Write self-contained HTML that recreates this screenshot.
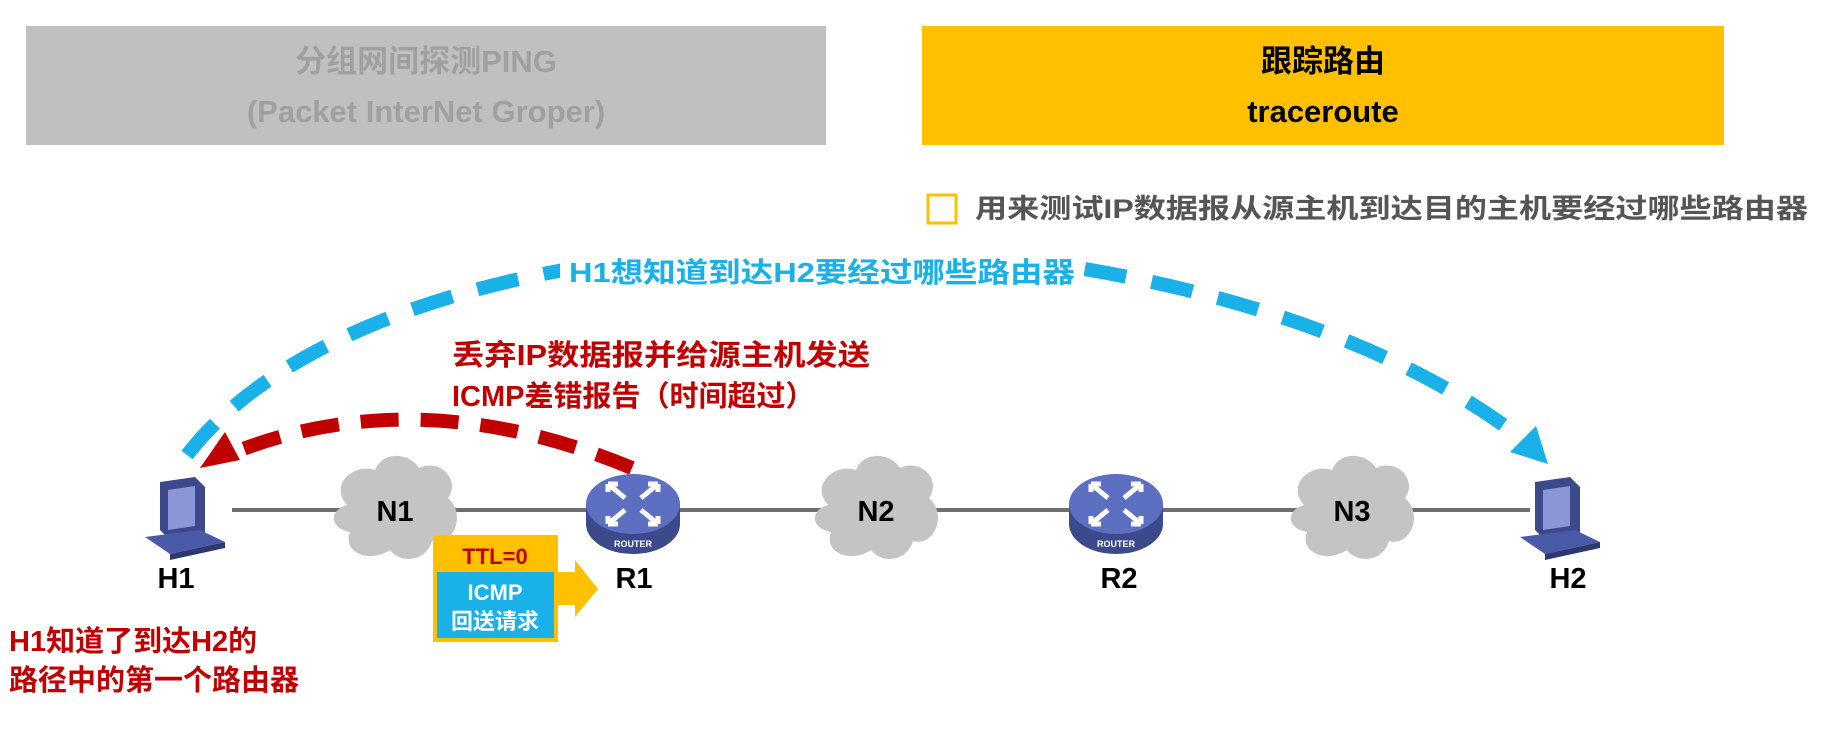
<!DOCTYPE html>
<html><head><meta charset="utf-8"><style>
body{margin:0;width:1822px;height:729px;background:#fff;overflow:hidden;font-family:"Liberation Sans","Noto Sans CJK SC",sans-serif;}
svg{position:absolute;left:0;top:0}
text{font-family:"Liberation Sans","Noto Sans CJK SC",sans-serif;font-weight:bold}
</style></head><body>
<svg width="1822" height="729" viewBox="0 0 1822 729">
<defs>
<g id="cloud"><path d="M-48,-5 C-66,-25 -42,-47 -20,-40 C-12,-60 15,-57 24,-42 C45,-52 66,-30 53,-12 C72,5 58,37 37,31 C31,52 5,54 -5,40 C-26,54 -53,42 -45,22 C-66,18 -66,0 -48,-5Z" fill="#c4c4c4"/></g>
<g id="router">
<ellipse cx="0" cy="12" rx="47" ry="30" fill="#3c4a8c"/>
<rect x="-47" y="-8" width="94" height="20" fill="#3c4a8c"/>
<ellipse cx="0" cy="-8" rx="47" ry="30" fill="#5d6fc0"/>
<g stroke="#fff" stroke-width="5" fill="none">
<path d="M-25,-28 L-8,-14 M-25,-28 h10 M-25,-28 v8"/>
<path d="M25,-28 L8,-14 M25,-28 h-10 M25,-28 v8"/>
<path d="M-25,12 L-8,-2 M-25,12 h10 M-25,12 v-8"/>
<path d="M25,12 L8,-2 M25,12 h-10 M25,12 v-8"/>
</g>
<text x="0" y="35" font-size="9" fill="#fff" text-anchor="middle">ROUTER</text>
</g>
<g id="pc">
<path d="M-30,-30 L5,-35 L15,-25 L15,22 L-20,28 L-30,18Z" fill="#3c4a8c"/>
<path d="M-22,-22 L5,-26 L5,14 L-22,18Z" fill="#8a96d8"/>
<path d="M-45,25 L10,18 L35,30 L-20,42Z" fill="#4a5aa8"/>
<path d="M-20,42 L35,30 L35,36 L-20,48Z" fill="#2c3870"/>
</g>
</defs>
<rect x="26" y="26" width="800" height="119" fill="#c0c0c0"/>
<text x="426" y="72" font-size="31" fill="#a0a0a0" text-anchor="middle">分组网间探测PING</text>
<text x="426" y="122" font-size="31" fill="#a0a0a0" text-anchor="middle">(Packet InterNet Groper)</text>
<rect x="922" y="26" width="802" height="119" fill="#ffc000"/>
<text x="1323" y="72" font-size="31" fill="#000" text-anchor="middle">跟踪路由</text>
<text x="1323" y="122" font-size="31" fill="#000" text-anchor="middle">traceroute</text>

<line x1="232" y1="510" x2="1530" y2="510" stroke="#707070" stroke-width="4"/>
<path d="M187,455 C400,180 1200,180 1530,445" fill="none" stroke="#1ab0e8" stroke-width="14" stroke-dasharray="42,26"/>
<polygon points="1548,464 1510,452 1536,426" fill="#1ab0e8"/>
<rect x="560" y="212" width="524" height="82" fill="#fff"/>
<text x="569" y="282" font-size="28" fill="#1ab0e8" textLength="506" lengthAdjust="spacingAndGlyphs">H1想知道到达H2要经过哪些路由器</text>
<rect x="928" y="195" width="28" height="28" fill="none" stroke="#ffc000" stroke-width="3"/>
<text x="975" y="218" font-size="27" fill="#555" textLength="833" lengthAdjust="spacingAndGlyphs">用来测试IP数据报从源主机到达目的主机要经过哪些路由器</text>
<path d="M632,468 Q420,380 235,452" fill="none" stroke="#c00000" stroke-width="14" stroke-dasharray="38,22"/>
<polygon points="200,468 225,432 240,460" fill="#c00000"/>
<text x="452" y="365" font-size="29" fill="#c00000" textLength="418" lengthAdjust="spacingAndGlyphs">丢弃IP数据报并给源主机发送</text>
<text x="452" y="406" font-size="29" fill="#c00000">ICMP差错报告（时间超过）</text>

<use href="#cloud" x="395" y="510"/>
<use href="#cloud" x="876" y="510"/>
<use href="#cloud" x="1352" y="510"/>
<text x="395" y="521" font-size="29" text-anchor="middle">N1</text>
<text x="876" y="521" font-size="29" text-anchor="middle">N2</text>
<text x="1352" y="521" font-size="29" text-anchor="middle">N3</text>
<use href="#router" x="633" y="512"/>
<use href="#router" x="1116" y="512"/>
<use href="#pc" x="190" y="512"/>
<use href="#pc" x="1565" y="512"/>
<text x="176" y="588" font-size="29" text-anchor="middle">H1</text>
<text x="634" y="588" font-size="29" text-anchor="middle">R1</text>
<text x="1119" y="588" font-size="29" text-anchor="middle">R2</text>
<text x="1568" y="588" font-size="29" text-anchor="middle">H2</text>

<polygon points="556,572 575,572 575,560 598,589 575,617 575,605 556,605" fill="#ffc000"/>
<rect x="433" y="535" width="125" height="107" fill="#ffc000"/>
<rect x="437" y="572" width="117" height="66" fill="#1ab0e8"/>
<text x="495" y="564" font-size="22" fill="#c00000" text-anchor="middle">TTL=0</text>
<text x="495" y="600" font-size="22" fill="#fff" text-anchor="middle">ICMP</text>
<text x="495" y="629" font-size="22" fill="#fff" text-anchor="middle">回送请求</text>

<text x="9" y="651" font-size="29" fill="#c00000">H1知道了到达H2的</text>
<text x="9" y="690" font-size="29" fill="#c00000">路径中的第一个路由器</text>
</svg>
</body></html>
